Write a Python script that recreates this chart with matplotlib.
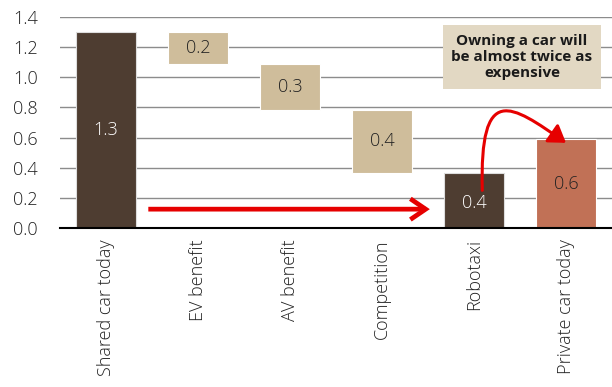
import matplotlib
matplotlib.use("Agg")
import matplotlib.pyplot as plt
from matplotlib.patches import FancyArrowPatch, Path

plt.rcParams['font.family'] = ['Open Sans', 'DejaVu Sans']
plt.rcParams['font.weight'] = 'light'

categories = ["Shared car today", "EV benefit", "AV benefit", "Competition", "Robotaxi", "Private car today"]
shared_today = 1.30
reductions = [0.215, 0.30, 0.42]
reduction_labels = ["0.2", "0.3", "0.4"]
robotaxi = 0.365
private_today = 0.59
total_labels = ["1.3", "0.4", "0.6"]

dark = "#4e3d31"
tan = "#cfbd9b"
terra = "#c17156"
boxc = "#e2d8c3"
red = "#e60000"

fig = plt.figure(figsize=(6.12, 3.87), dpi=100)
ax = fig.add_axes([60/612, 1-228/387, 552/612, 211/387])
ax.set_xlim(-0.5, 5.5)
ax.set_ylim(0, 1.4)
ax.set_yticks([0, 0.2, 0.4, 0.6, 0.8, 1.0, 1.2, 1.4])
ax.set_yticklabels([f"{v:.1f}" for v in ax.get_yticks()])
ax.yaxis.grid(True, color="#8c8c8c", lw=1.0)
ax.set_axisbelow(True)
for s in ["top", "right", "left"]:
    ax.spines[s].set_visible(False)
ax.spines["bottom"].set_color("black")
ax.spines["bottom"].set_linewidth(1.5)
ax.tick_params(axis="both", length=0, labelsize=13, colors="#222222", pad=8)
ax.tick_params(axis="y", pad=16)
ax.set_xticks(range(len(categories)))
ax.set_xticklabels(categories, rotation=90)

w = 0.65
ax.bar(0, shared_today, width=w, color=dark, edgecolor="#dddddd", lw=0.8)
ax.text(0, shared_today / 2, total_labels[0], ha="center", va="center", color="white", fontsize=13)

level = shared_today
for i, (r, lab) in enumerate(zip(reductions, reduction_labels), start=1):
    bottom = level - r
    ax.bar(i, r, bottom=bottom, width=w, color=tan, edgecolor="white", lw=0.8)
    ax.text(i, bottom + r / 2, lab, ha="center", va="center", color="#222222", fontsize=13)
    level = bottom

ax.bar(4, robotaxi, width=w, color=dark, edgecolor="#dddddd", lw=0.8)
ax.text(4, robotaxi * 0.45, total_labels[1], ha="center", va="center", color="white", fontsize=13)
ax.bar(5, private_today, width=w, color=terra, edgecolor="white", lw=0.8)
ax.text(5, private_today / 2, total_labels[2], ha="center", va="center", color="#222222", fontsize=13)

# straight red arrow (open chevron head)
ax.add_patch(FancyArrowPatch((0.46, 0.125), (3.52, 0.125), arrowstyle="->,head_length=5,head_width=3.4",
                             mutation_scale=2.2, color=red, lw=3.4, shrinkA=0, shrinkB=0,
                             capstyle="butt", joinstyle="miter"))
# curved red arrow
verts = [(4.09, 0.25), (4.06, 0.97), (4.40, 0.82), (5.0, 0.565)]
codes = [Path.MOVETO, Path.CURVE4, Path.CURVE4, Path.CURVE4]
ax.add_patch(FancyArrowPatch(path=Path(verts, codes), arrowstyle="-|>,head_length=5,head_width=3.3",
                             mutation_scale=2.0, color=red, lw=2.2))

# annotation box
fig.text(522/612, 1 - 57/387, "Owning a car will\nbe almost twice as\nexpensive", ha="center", va="center",
         fontsize=11, fontweight="bold", color="#1a1a1a", linespacing=1.2,
         bbox=dict(boxstyle="square,pad=0.55", fc=boxc, ec="none"))

fig.savefig("out.png", dpi=100)
